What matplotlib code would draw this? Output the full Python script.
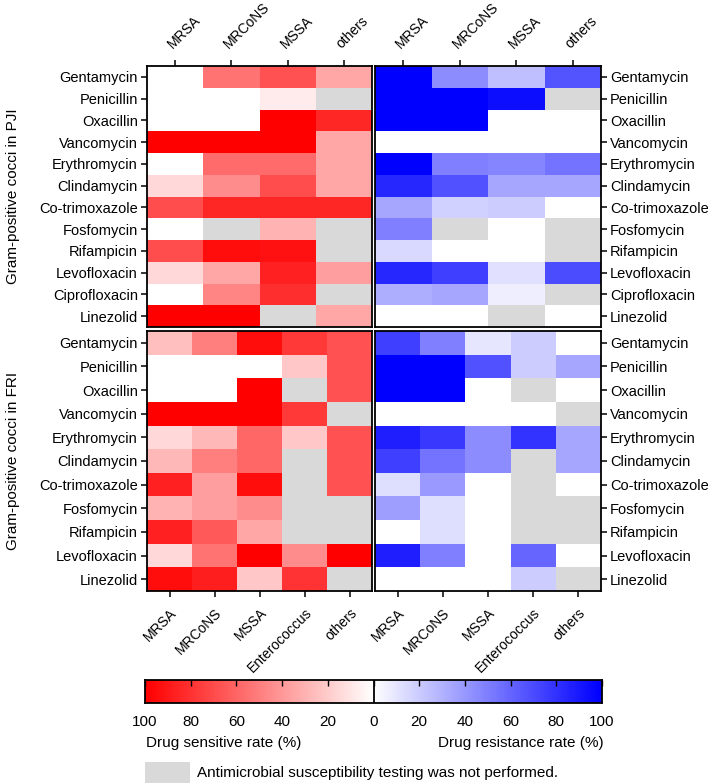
import matplotlib
matplotlib.use("Agg")
import matplotlib.pyplot as plt
import numpy as np
from matplotlib.colors import LinearSegmentedColormap
from matplotlib.patches import Rectangle

plt.rcParams['font.family'] = ['Liberation Sans', 'DejaVu Sans']
plt.rcParams['font.size'] = 10.5

nan = np.nan

drugs_pji = ["Gentamycin", "Penicillin", "Oxacillin", "Vancomycin", "Erythromycin",
             "Clindamycin", "Co-trimoxazole", "Fosfomycin", "Rifampicin",
             "Levofloxacin", "Ciprofloxacin", "Linezolid"]
drugs_fri = ["Gentamycin", "Penicillin", "Oxacillin", "Vancomycin", "Erythromycin",
             "Clindamycin", "Co-trimoxazole", "Fosfomycin", "Rifampicin",
             "Levofloxacin", "Linezolid"]
orgs_pji = ["MRSA", "MRCoNS", "MSSA", "others"]
orgs_fri = ["MRSA", "MRCoNS", "MSSA", "Enterococcus", "others"]

# sensitive rate (%) PJI
sens_pji = [
    [0, 55, 68, 35],
    [0, 0, 8, nan],
    [0, 0, 100, 85],
    [100, 100, 100, 35],
    [0, 58, 58, 35],
    [15, 45, 70, 35],
    [70, 85, 85, 85],
    [0, nan, 30, nan],
    [70, 95, 93, nan],
    [15, 35, 87, 38],
    [0, 48, 82, nan],
    [100, 100, nan, 35],
]
# resistance rate (%) PJI
res_pji = [
    [100, 45, 25, 67],
    [100, 100, 95, nan],
    [100, 100, 0, 0],
    [0, 0, 0, 0],
    [100, 50, 48, 55],
    [85, 68, 35, 35],
    [35, 18, 20, 0],
    [50, nan, 0, nan],
    [15, 0, 0, nan],
    [85, 75, 12, 70],
    [32, 35, 7, nan],
    [0, 0, nan, 0],
]
# sensitive rate (%) FRI
sens_fri = [
    [25, 50, 95, 78, 68],
    [0, 0, 0, 22, 68],
    [0, 0, 100, nan, 68],
    [100, 100, 100, 78, nan],
    [15, 28, 60, 22, 68],
    [28, 50, 60, nan, 68],
    [87, 38, 95, nan, 68],
    [30, 38, 45, nan, nan],
    [87, 65, 35, nan, nan],
    [15, 55, 100, 45, 100],
    [95, 88, 22, 80, nan],
]
# resistance rate (%) FRI
res_fri = [
    [75, 50, 10, 20, 0],
    [100, 100, 68, 20, 35],
    [100, 100, 0, nan, 0],
    [0, 0, 0, 0, nan],
    [88, 78, 45, 80, 35],
    [75, 55, 45, nan, 35],
    [13, 40, 0, nan, 0],
    [38, 13, 0, nan, nan],
    [0, 13, 0, nan, nan],
    [88, 50, 0, 60, 0],
    [0, 0, 0, 20, nan],
]

gray = "#d9d9d9"
reds = LinearSegmentedColormap.from_list("w_r", ["#ffffff", "#ff0000"])
blues = LinearSegmentedColormap.from_list("w_b", ["#ffffff", "#0000ff"])
reds.set_bad(gray)
blues.set_bad(gray)

W, H = 708, 783
fig = plt.figure(figsize=(W / 100, H / 100), dpi=100)


def fx(px):
    return px / W


def fy(py):
    return 1 - py / H


def panel(x0, x1, y0, y1, data, cmap, rows, cols, side, top):
    ax = fig.add_axes([fx(x0), fy(y1), fx(x1) - fx(x0), fy(y0) - fy(y1)])
    arr = np.ma.masked_invalid(np.array(data, dtype=float))
    ax.pcolormesh(arr, cmap=cmap, vmin=0, vmax=100)
    ax.set_xlim(0, len(cols))
    ax.set_ylim(len(rows), 0)
    ax.set_yticks(np.arange(len(rows)) + 0.5)
    ax.set_yticklabels(rows)
    ax.set_xticks(np.arange(len(cols)) + 0.5)
    if top:
        ax.xaxis.tick_top()
        ax.set_xticklabels(cols, rotation=45, ha="left", va="bottom",
                           rotation_mode="anchor")
    else:
        ax.set_xticklabels(cols, rotation=45, ha="right", va="top",
                           rotation_mode="anchor")
    if side == "right":
        ax.yaxis.tick_right()
    ax.tick_params(axis="y", length=4.5, width=1.1, labelsize=10.5, pad=2)
    ax.tick_params(axis="x", length=4.5, width=1.1, labelsize=10, pad=6)
    for s in ax.spines.values():
        s.set_linewidth(1.3)
    return ax


LX0, LX1, RX0, RX1 = 147, 372, 375, 601
TY0, TY1, BY0, BY1 = 66, 327, 331, 591

panel(LX0, LX1, TY0, TY1, sens_pji, reds, drugs_pji, orgs_pji, "left", True)
panel(RX0, RX1, TY0, TY1, res_pji, blues, drugs_pji, orgs_pji, "right", True)
panel(LX0, LX1, BY0, BY1, sens_fri, reds, drugs_fri, orgs_fri, "left", False)
panel(RX0, RX1, BY0, BY1, res_fri, blues, drugs_fri, orgs_fri, "right", False)

fig.text(fx(13), fy((TY0 + TY1) / 2), "Gram-positive cocci in PJI",
         rotation=90, ha="center", va="center", fontsize=11)
fig.text(fx(13), fy((BY0 + BY1) / 2), "Gram-positive cocci in FRI",
         rotation=90, ha="center", va="center", fontsize=11)

# colorbar
cax = fig.add_axes([fx(145), fy(703), fx(602) - fx(145), fy(680) - fy(703)])
grad = np.linspace(-100, 100, 400).reshape(1, -1)
div = LinearSegmentedColormap.from_list("rwb", ["#ff0000", "#ffffff", "#0000ff"])
cax.imshow(grad, aspect="auto", cmap=div, extent=[-100, 100, 0, 1])
cax.axvline(0, color="black", lw=1.3)
cbar_ticks = [-100, -80, -60, -40, -20, 0, 20, 40, 60, 80, 100]
cax.set_xticks(cbar_ticks)
cax.set_xticklabels([str(abs(t)) for t in cbar_ticks], fontsize=11)
cax.set_yticks([])
cax.tick_params(axis="x", direction="in", length=4, width=1, pad=9,
                top=True, bottom=False, labelbottom=True)
for s in cax.spines.values():
    s.set_linewidth(1.3)

fig.text(fx(146), fy(743), "Drug sensitive rate (%)", ha="left", va="center",
         fontsize=11)
fig.text(fx(604), fy(743), "Drug resistance rate (%)", ha="right", va="center",
         fontsize=11)

fig.patches.append(Rectangle((fx(145), fy(783)), fx(190) - fx(145),
                             fy(762) - fy(783), transform=fig.transFigure,
                             facecolor=gray, edgecolor="none"))
fig.text(fx(197), fy(773), "Antimicrobial susceptibility testing was not performed.",
         ha="left", va="center", fontsize=11)

fig.savefig("out.png", dpi=100)
